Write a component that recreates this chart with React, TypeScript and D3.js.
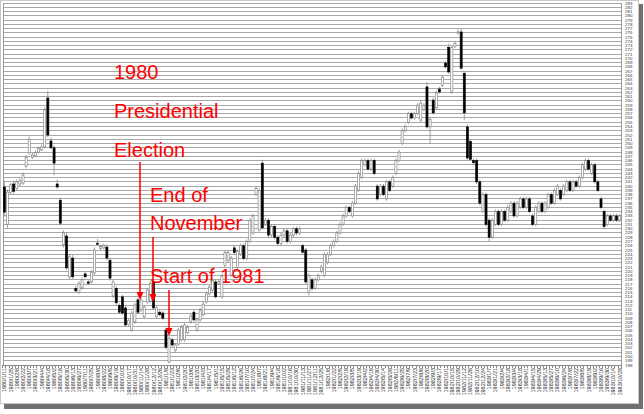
import React from 'react';
import * as d3 from 'd3';

const START_DATE = new Date(1980, 0, 11);
const WEEKS = 199;
const Y_MIN = 198;
const Y_MAX = 283;

const opens = [
  239.8, 231.0, 238.5, 240.5, 239.5, 240.5, 240.7, 244.7, 247.8, 246.8,
  247.1, 248.0, 248.5, 249.2, 260.7, 250.6, 249.0, 240.5, 236.7, 226.2,
  228.3, 218.7, 223.1, 216.0, 215.1, 216.1, 219.4, 217.5, 217.5, 219.6,
  226.6, 225.4, 225.5, 225.7, 222.6, 214.2, 216.0, 212.0, 214.0, 211.4,
  207.5, 206.2, 208.1, 213.3, 210.9, 209.3, 212.8, 213.0, 217.5, 209.3,
  210.4, 210.2, 206.2, 198.7, 203.9, 201.5, 202.9, 203.9, 203.9, 205.6,
  208.1, 210.4, 206.2, 208.6, 209.8, 212.8, 214.7, 215.6, 217.5, 217.2,
  214.0, 221.4, 222.6, 219.1, 225.5, 220.9, 224.0, 226.0, 223.0, 227.0,
  229.0, 238.0, 229.7, 245.4, 231.0, 232.0, 228.5, 230.5, 228.0, 226.5,
  228.5, 229.5, 227.0, 228.5, 230.0, 229.0, 226.0, 225.0, 215.0, 218.0,
  216.0, 218.0, 220.0, 219.0, 222.0, 224.0, 226.0, 227.0, 229.0, 231.0,
  233.0, 235.0, 233.0, 236.0, 239.0, 242.0, 245.0, 246.0, 244.0, 246.0,
  240.0, 238.0, 240.0, 237.0, 241.0, 240.0, 243.0, 246.0, 250.0, 253.0,
  255.0, 257.0, 256.0, 257.0, 255.5, 258.0, 263.3, 253.9, 260.2, 258.4,
  262.8, 263.7, 268.9, 272.6, 262.1, 272.8, 276.0, 276.2, 266.5, 253.9,
  250.5, 246.0, 246.0, 241.0, 234.0, 238.0, 232.0, 228.0, 231.0, 234.0,
  231.0, 234.0, 232.0, 234.0, 236.0, 233.0, 235.0, 237.0, 235.0, 237.0,
  233.0, 231.0, 234.0, 236.0, 234.0, 235.0, 238.0, 236.0, 238.0, 239.0,
  238.0, 239.0, 241.0, 239.0, 241.0, 240.0, 242.0, 244.0, 246.0, 243.0,
  245.0, 241.0, 237.0, 234.0, 231.0, 233.0, 232.0, 233.0, 232.0,
];

const closes = [
  233.9, 238.6, 240.3, 238.8, 241.0, 241.2, 242.6, 246.7, 251.0, 247.3,
  247.9, 248.9, 249.2, 257.9, 252.0, 249.0, 245.4, 239.8, 231.3, 229.0,
  220.8, 223.4, 218.7, 215.4, 217.2, 218.0, 218.7, 217.2, 219.8, 225.0,
  226.4, 225.8, 226.0, 223.1, 218.4, 217.5, 212.6, 210.4, 210.2, 207.4,
  208.4, 210.2, 212.1, 210.4, 213.3, 211.6, 215.6, 217.2, 211.4, 211.4,
  209.8, 209.0, 202.2, 204.3, 202.7, 202.7, 206.2, 206.9, 207.4, 206.9,
  209.5, 208.6, 208.6, 210.9, 212.3, 214.7, 216.3, 217.8, 214.0, 217.6,
  218.9, 224.4, 224.4, 223.1, 224.4, 224.6, 226.0, 223.0, 227.0, 232.0,
  233.0, 239.5, 239.0, 230.2, 232.0, 228.5, 230.5, 228.0, 226.5, 228.5,
  229.5, 227.0, 228.5, 230.0, 229.0, 230.0, 224.5, 217.5, 219.0, 216.0,
  218.0, 219.0, 221.0, 224.0, 224.0, 226.0, 227.0, 229.0, 231.0, 233.0,
  235.0, 234.0, 236.0, 240.0, 243.0, 246.0, 246.0, 244.0, 246.0, 243.0,
  237.0, 240.0, 238.0, 241.0, 239.0, 242.0, 246.0, 248.0, 253.0, 254.0,
  257.0, 256.0, 257.0, 259.0, 259.5, 259.0, 253.9, 255.7, 257.2, 261.9,
  262.1, 265.6, 268.0, 266.8, 272.6, 273.5, 276.2, 267.7, 257.2, 246.6,
  246.3, 245.5, 241.0, 236.0, 238.0, 231.0, 228.0, 232.0, 234.0, 231.0,
  234.0, 232.0, 235.0, 236.0, 233.0, 236.0, 237.0, 235.0, 237.0, 234.0,
  231.0, 235.0, 236.0, 234.0, 236.0, 238.0, 236.0, 239.0, 240.0, 237.0,
  240.0, 241.0, 239.0, 241.0, 240.0, 242.0, 245.0, 246.0, 244.0, 245.0,
  241.0, 239.0, 235.0, 230.5, 233.0, 232.0, 233.0, 232.0, 233.0,
];

const highs = [
  241.2, 239.2, 240.8, 241.3, 241.6, 241.8, 243.2, 247.3, 251.6, 247.8,
  248.4, 249.3, 249.8, 258.6, 262.4, 251.4, 249.6, 241.5, 237.3, 229.6,
  229.0, 224.0, 223.8, 216.6, 217.7, 218.5, 220.0, 218.0, 220.3, 225.6,
  227.6, 226.3, 226.5, 226.3, 223.2, 218.0, 216.6, 212.5, 214.5, 211.9,
  208.9, 210.7, 212.6, 213.8, 213.8, 212.1, 216.1, 217.8, 218.1, 211.9,
  210.9, 210.7, 206.8, 204.8, 204.5, 203.2, 206.7, 207.4, 207.9, 207.4,
  210.0, 210.9, 209.1, 211.4, 212.8, 215.2, 216.8, 218.3, 218.0, 218.0,
  219.4, 224.9, 225.0, 223.6, 226.0, 225.1, 226.5, 226.5, 227.5, 232.5,
  233.5, 240.0, 239.5, 246.2, 232.5, 232.5, 231.0, 231.0, 228.5, 229.0,
  230.0, 230.0, 229.0, 230.5, 230.5, 230.5, 226.5, 225.5, 219.5, 218.5,
  218.5, 219.5, 221.5, 224.5, 224.5, 226.5, 227.5, 229.5, 231.5, 233.5,
  235.5, 235.5, 236.5, 240.5, 243.5, 246.5, 246.5, 246.5, 246.5, 246.5,
  240.5, 240.5, 240.5, 241.5, 241.5, 242.5, 246.5, 248.5, 253.5, 254.5,
  257.5, 257.5, 257.5, 259.5, 260.0, 259.5, 264.5, 256.2, 260.8, 262.4,
  263.3, 266.1, 269.4, 273.5, 273.1, 274.0, 276.8, 277.1, 267.0, 254.5,
  251.0, 246.5, 246.5, 241.5, 238.5, 238.5, 232.5, 232.5, 234.5, 234.5,
  234.5, 234.5, 235.5, 236.5, 236.5, 236.5, 237.5, 237.5, 237.5, 237.5,
  233.5, 235.5, 236.5, 236.5, 236.5, 238.5, 238.5, 239.5, 240.5, 239.5,
  240.5, 241.5, 241.5, 241.5, 241.5, 242.5, 245.5, 246.5, 246.5, 245.5,
  245.5, 241.5, 237.5, 234.5, 233.5, 233.5, 233.5, 233.5, 233.5,
];

const lows = [
  232.8, 230.2, 238.0, 238.2, 239.0, 240.0, 240.3, 244.2, 247.3, 246.3,
  246.8, 247.7, 248.2, 248.9, 251.5, 248.6, 242.6, 239.3, 230.8, 225.6,
  220.3, 218.2, 218.2, 215.0, 214.7, 215.7, 218.3, 216.8, 217.1, 219.2,
  226.0, 225.0, 225.1, 222.6, 217.8, 213.8, 212.1, 210.0, 209.8, 207.0,
  207.1, 205.8, 207.7, 209.9, 210.5, 208.9, 212.4, 212.6, 210.9, 208.9,
  209.4, 208.6, 201.7, 198.4, 202.3, 201.0, 202.5, 203.5, 203.5, 205.2,
  207.7, 208.2, 205.8, 208.2, 209.4, 212.4, 214.3, 215.2, 213.6, 216.8,
  213.6, 221.0, 222.2, 218.7, 224.0, 220.5, 223.6, 222.6, 222.6, 226.6,
  228.6, 237.6, 229.3, 229.8, 230.6, 228.0, 228.0, 227.5, 226.0, 226.0,
  228.0, 226.5, 226.5, 228.0, 228.5, 228.5, 224.0, 217.0, 214.3, 215.5,
  215.6, 217.6, 219.6, 218.6, 221.6, 223.6, 225.6, 226.6, 228.6, 230.6,
  232.6, 233.6, 232.6, 235.6, 238.6, 241.6, 244.6, 243.6, 243.6, 242.6,
  236.6, 237.6, 237.6, 236.6, 238.6, 239.6, 242.6, 245.6, 249.6, 252.6,
  254.6, 255.6, 255.6, 256.6, 255.1, 257.6, 253.5, 250.0, 256.8, 258.0,
  261.7, 263.3, 267.6, 266.4, 261.7, 272.4, 275.6, 267.3, 255.5, 246.2,
  245.9, 245.0, 240.5, 235.5, 233.6, 230.5, 227.0, 227.6, 230.6, 230.6,
  230.6, 231.6, 231.6, 233.6, 232.6, 232.6, 234.6, 234.6, 234.6, 233.6,
  230.6, 230.6, 233.6, 233.6, 233.6, 234.6, 235.6, 235.6, 237.6, 236.6,
  237.6, 238.6, 238.6, 238.6, 239.6, 239.6, 241.6, 243.6, 243.6, 242.6,
  240.6, 238.6, 234.6, 230.0, 230.6, 231.6, 231.6, 231.6, 231.6,
];

const fmt = d3.timeFormat('%Y/%-m/%-d');
const dateLabels = d3.range(WEEKS).map((i) => fmt(d3.timeDay.offset(START_DATE, 7 * i)));
const yTickValues = d3.range(Y_MIN, Y_MAX + 1);

const annotationLines = [
  { text: '1980', x: 114, y: 79 },
  { text: 'Presidential', x: 114, y: 118 },
  { text: 'Election', x: 114, y: 157 },
  { text: 'End of', x: 150, y: 202 },
  { text: 'November', x: 150, y: 230 },
  { text: 'Start of 1981', x: 150, y: 283 },
];
const arrows = [
  { x: 140, y1: 162, y2: 300 },
  { x: 153, y1: 237, y2: 302 },
  { x: 169, y1: 290, y2: 336 },
];

export default function App() {
  const W = 644;
  const H = 414;
  const left = 3;
  const right = 621;
  const top = 3;
  const bottom = 365;

  const x = d3.scaleBand<number>().domain(d3.range(WEEKS)).range([left, right]).paddingInner(0.33).paddingOuter(0.1);
  const y = d3.scaleLinear().domain([Y_MIN, Y_MAX]).range([bottom, top]);
  const bw = x.bandwidth();
  const cx = (i: number) => (x(i) as number) + bw / 2;

  const labelFont = '"Liberation Sans", Arial, sans-serif';

  return (
    <svg width={W} height={H} style={{ position: 'absolute', left: 0, top: 0, display: 'block', background: '#fff' }}>
      {/* frame & shadow */}
      <rect x={4} y={404} width={639} height={5} fill="#707070" />
      <rect x={639} y={4} width={4} height={405} fill="#707070" />
      <rect x={0.5} y={0.5} width={638} height={403} fill="#fff" stroke="#c8c8c8" />

      {/* gridlines */}
      <g shapeRendering="crispEdges">
        {yTickValues.map((v) => (
          <line key={v} x1={left} x2={right} y1={y(v)} y2={y(v)} stroke="#a8a8a8" strokeWidth={1} />
        ))}
        <line x1={left} x2={left} y1={top} y2={bottom} stroke="#999" />
        <line x1={right} x2={right} y1={top} y2={bottom} stroke="#999" />
        <line x1={left} x2={right} y1={bottom} y2={bottom} stroke="#888" />
        {d3.range(WEEKS + 1).map((i) => {
          const xx = i < WEEKS ? (x(i) as number) - (x.step() - bw) / 2 : right;
          return <line key={i} x1={xx} x2={xx} y1={bottom} y2={bottom + 3} stroke="#888" />;
        })}
      </g>

      {/* right axis labels */}
      <g fontFamily={labelFont} fontSize={4.4} fill="#333">
        {yTickValues.map((v) => (
          <text key={v} x={625} y={y(v) + 1.5}>{v}</text>
        ))}
      </g>

      {/* bottom labels */}
      <g fontFamily={labelFont} fontSize={5.5} fill="#2a2a2a">
        {dateLabels.map((d, i) =>
          i % 2 === 0 ? (
            <text key={i} transform={`translate(${cx(i) + 2},${bottom + 3}) rotate(-90)`} textAnchor="end">
              {d}
            </text>
          ) : null
        )}
      </g>

      {/* annotation text */}
      <g fontFamily={labelFont} fontSize={20} fill="#ff0000">
        {annotationLines.map((a, k) => (
          <text key={k} x={a.x} y={a.y}>{a.text}</text>
        ))}
      </g>

      {/* candles */}
      <g>
        {closes.map((c, i) => {
          const o = opens[i];
          const up = c >= o;
          const yTop = y(Math.max(o, c));
          const yBot = y(Math.min(o, c));
          return (
            <g key={i}>
              <line x1={cx(i)} x2={cx(i)} y1={y(highs[i])} y2={y(lows[i])} stroke="#888" strokeWidth={0.8} />
              <rect
                x={x(i) as number}
                y={yTop}
                width={bw}
                height={Math.max(1, yBot - yTop)}
                fill={up ? '#fff' : '#000'}
                stroke={up ? '#777' : '#000'}
                strokeWidth={0.6}
              />
            </g>
          );
        })}
      </g>

      {/* arrows */}
      <g>
        {arrows.map((a, k) => (
          <g key={k}>
            <line x1={a.x} x2={a.x} y1={a.y1} y2={a.y2 - 6} stroke="#ff0000" strokeWidth={1.5} />
            <path d={`M${a.x - 3.5},${a.y2 - 8} L${a.x + 3.5},${a.y2 - 8} L${a.x},${a.y2} Z`} fill="#ff0000" />
          </g>
        ))}
      </g>
    </svg>
  );
}
